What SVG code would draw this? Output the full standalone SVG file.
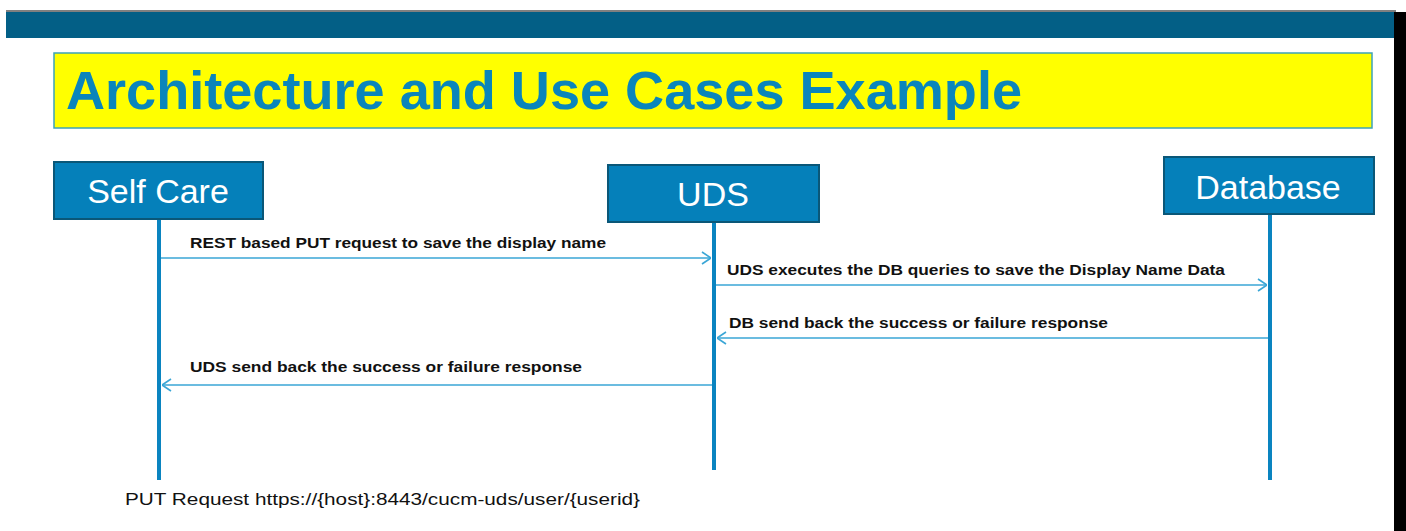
<svg xmlns="http://www.w3.org/2000/svg" width="1406" height="531" viewBox="0 0 1406 531">
<defs>
<style>
.node rect{fill:#0580BA;stroke:#0A5778;stroke-width:2}
.node text{fill:#ffffff;font-family:"Liberation Sans",Arial,sans-serif;font-size:34px;text-anchor:middle}
.life{stroke:#0A84C0;stroke-width:4}
.msg{stroke:#3AA6D6;stroke-width:1.6;fill:none}
.lbl{fill:#111111;font-family:"Liberation Sans",Arial,sans-serif;font-weight:bold;font-size:14px}
</style>
<marker id="arr" viewBox="0 0 10 14" refX="10" refY="7" markerWidth="10" markerHeight="14" markerUnits="userSpaceOnUse" orient="auto">
<path d="M1,1 L10,7 L1,13" fill="none" stroke="#3AA6D6" stroke-width="1.6"/>
</marker>
</defs>
<rect x="0" y="0" width="1406" height="531" fill="#ffffff"/>
<rect x="6" y="10" width="1390" height="2" fill="#808080"/>
<rect x="6" y="12" width="1390" height="26" fill="#035F86"/>
<rect x="1394" y="12" width="12" height="519" fill="#000000"/>
<g id="title">
<rect x="54" y="53" width="1318" height="75" fill="#FFFF00" stroke="#3CA3B8" stroke-width="1.5"/>
<text x="66" y="109" font-family="'Liberation Sans',Arial,sans-serif" font-weight="bold" font-size="54" fill="#0A85BB" textLength="956" lengthAdjust="spacingAndGlyphs">Architecture and Use Cases Example</text>
</g>
<g id="connectors">
<line class="life" x1="159" y1="219" x2="159" y2="480"/>
<line class="life" x1="714" y1="222" x2="714" y2="470"/>
<line class="life" x1="1270" y1="215" x2="1270" y2="480"/>
<line class="msg" x1="161" y1="258" x2="711" y2="258" marker-end="url(#arr)"/>
<line class="msg" x1="716" y1="285" x2="1267" y2="285" marker-end="url(#arr)"/>
<line class="msg" x1="1268" y1="338" x2="717" y2="338" marker-end="url(#arr)"/>
<line class="msg" x1="712" y1="385" x2="162" y2="385" marker-end="url(#arr)"/>
<text class="lbl" x="190" y="248" textLength="416" lengthAdjust="spacingAndGlyphs">REST based PUT request to save the display name</text>
<text class="lbl" x="727" y="275" textLength="498" lengthAdjust="spacingAndGlyphs">UDS executes the DB queries to save the Display Name Data</text>
<text class="lbl" x="729" y="328" textLength="379" lengthAdjust="spacingAndGlyphs">DB send back the success or failure response</text>
<text class="lbl" x="190" y="372" textLength="392" lengthAdjust="spacingAndGlyphs">UDS send back the success or failure response</text>
</g>
<g id="node-selfcare" class="node">
<rect x="54" y="162" width="209" height="57"/>
<text x="158" y="203">Self Care</text>
</g>
<g id="node-uds" class="node">
<rect x="608" y="165" width="211" height="57"/>
<text x="713" y="206">UDS</text>
</g>
<g id="node-database" class="node">
<rect x="1164" y="157" width="210" height="57"/>
<text x="1268" y="199">Database</text>
</g>
<text id="footer" x="125" y="505" font-family="'Liberation Sans',Arial,sans-serif" font-size="16" fill="#111111" textLength="515" lengthAdjust="spacingAndGlyphs">PUT Request https://{host}:8443/cucm-uds/user/{userid}</text>
</svg>
